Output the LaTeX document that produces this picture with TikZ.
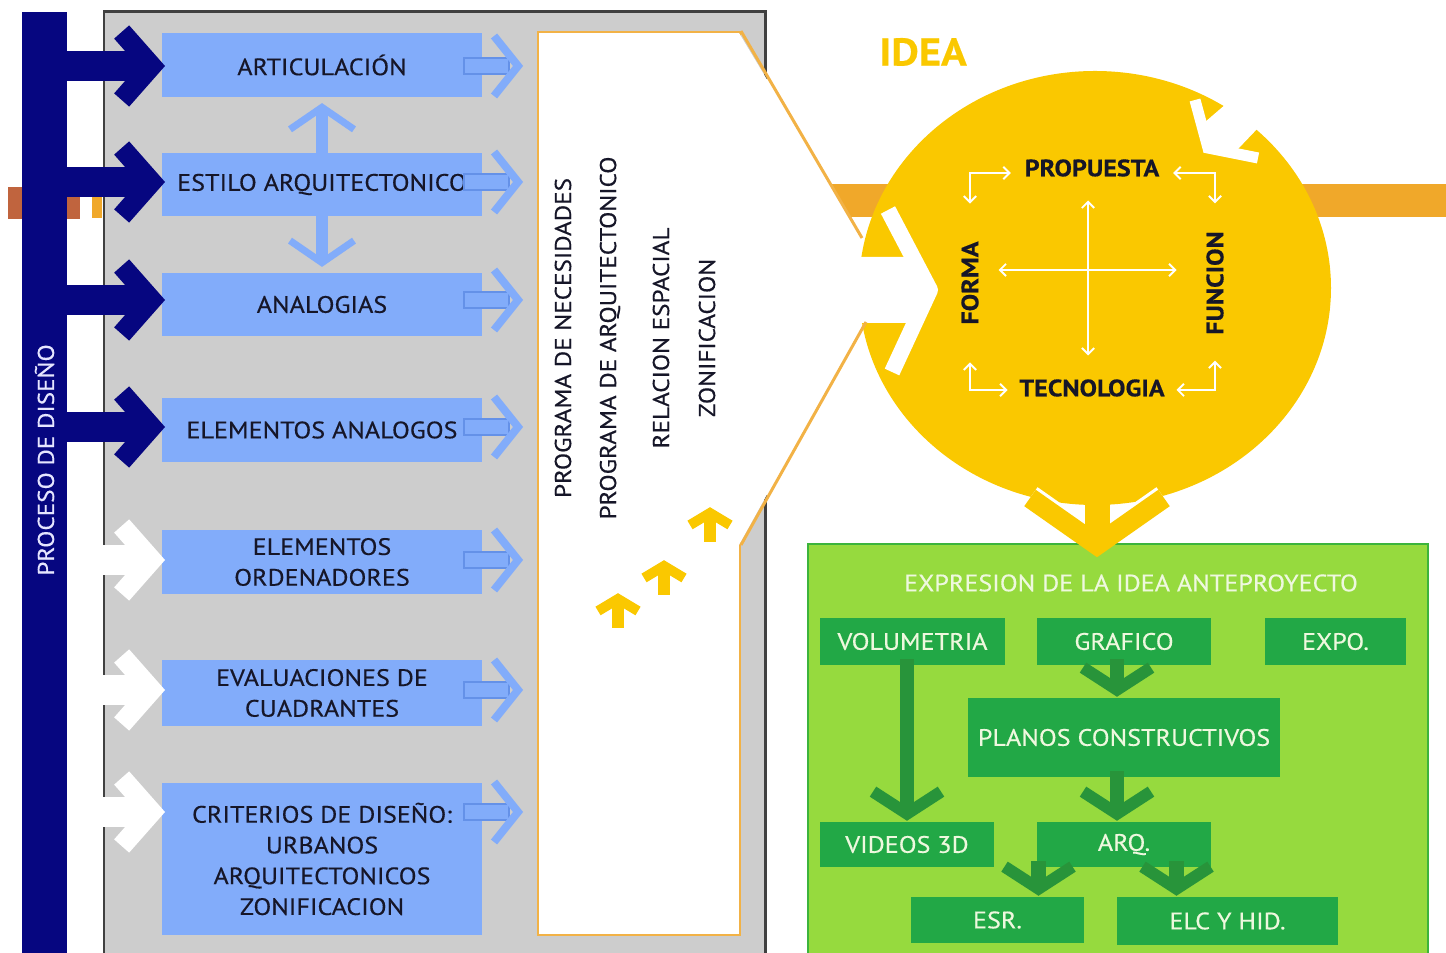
\documentclass[tikz,border=0pt]{standalone}
\usepackage{fontspec}
\setmainfont{PT Sans}[FakeStretch=1.1,FakeBold=0.4]
\usetikzlibrary{calc,arrows.meta}

\definecolor{navy}{RGB}{6,6,128}
\definecolor{boxblue}{RGB}{130,172,250}
\definecolor{edgeblue}{RGB}{100,145,232}
\definecolor{panelgray}{RGB}{205,205,205}
\definecolor{rust}{RGB}{192,100,62}
\definecolor{bandorange}{RGB}{240,168,42}
\definecolor{lineorange}{RGB}{242,178,70}
\definecolor{ideayellow}{RGB}{250,200,0}
\definecolor{limefill}{RGB}{150,218,62}
\definecolor{limeedge}{RGB}{60,180,60}
\definecolor{boxgreen}{RGB}{34,168,70}
\definecolor{arrowgreen}{RGB}{40,148,58}
\definecolor{cream}{RGB}{238,248,222}
\definecolor{inkdark}{RGB}{22,22,40}

\tikzset{
  bluebox/.style={fill=boxblue,minimum width=64mm,inner sep=1pt,align=center,text=inkdark,font=\fontsize{13.5}{17.5}\selectfont},
  greenbox/.style={fill=boxgreen,inner sep=1pt,text=cream,font=\fontsize{13.5}{16}\selectfont},
  vtext/.style={rotate=90,text=inkdark,font=\fontsize{13}{16}\selectfont},
  idtext/.style={text=inkdark,font=\bfseries\fontsize{13.5}{15}\selectfont,inner sep=2pt},
  warr/.style={white,line width=1.1pt,{Straight Barb[length=3.5pt,width=7pt]}-{Straight Barb[length=3.5pt,width=7pt]}},
  gshaft/.style={arrowgreen,line width=8pt},
  ghead/.style={arrowgreen,line width=6.8pt}
}

\begin{document}
\begin{tikzpicture}[x=0.2mm,y=-0.2mm]
\useasboundingbox (0,0) rectangle (1446,953);
\clip (0,0) rectangle (1446,953);

\fill[rust] (8,187) rectangle (80,219);
\fill[bandorange] (92,195) rectangle (102,218);
\fill[bandorange] (800,184) rectangle (1446,217);

\filldraw[fill=panelgray,draw=black!75,line width=1.7pt] (104,12) rectangle (765,975);

\node[fill=navy,minimum width=9mm,minimum height=190mm,inner sep=0] (bar) at (44.5,487) {};
\node[rotate=90,text=white!90!blue,font=\fontsize{13}{15}\selectfont] (proc) at (44.5,460) {PROCESO DE DISEÑO};

\foreach[count=\i] \y/\h/\txt in {65/12.8/ARTICULACIÓN,184.5/12.6/ESTILO ARQUITECTONICO,304.5/12.6/ANALOGIAS,430/12.8/ELEMENTOS ANALOGOS,562/12.8/{ELEMENTOS\\ORDENADORES},693/13.2/{EVALUACIONES DE\\CUADRANTES},859/30.4/{CRITERIOS DE DISEÑO:\\URBANOS\\ARQUITECTONICOS\\ZONIFICACION}}
  \node[bluebox,minimum height=\h mm] (b\i) at (322,\y) {\txt};

\node[draw=lineorange,line width=1.1pt,fill=white,minimum width=40.4mm,minimum height=180.6mm,inner sep=0] (prog) at (639,483.5) {};
\foreach[count=\i] \x/\txt in {563/PROGRAMA DE NECESIDADES,610/PROGRAMA DE ARQUITECTONICO,661/RELACION ESPACIAL,707/ZONIFICACION}
  \node[vtext] (p\i) at (\x,338) {\txt};

\foreach[count=\i] \ay/\ac in {66/navy,182/navy,300/navy,427/navy,560/white,690/white,812/white} {
  \coordinate (l\i) at (b\i.west |- 0,\ay);
  \coordinate (r\i) at (prog.west |- 0,\ay);
  \draw[\ac,line width=17pt] (bar.east |- l\i) -- ($(l\i)+(-12,0)$);
  \draw[\ac,line width=11.4pt] ($(l\i)+(-40,-34)$) -- ($(l\i)+(-10,0)$) -- ($(l\i)+(-40,34)$);
  \draw[fill=boxblue,draw=edgeblue,line width=0.85pt] ($(r\i)+(-73,-8)$) rectangle ($(r\i)+(-28,8)$);
  \draw[boxblue,line width=4.5pt] ($(r\i)+(-43,-30)$) -- ($(r\i)+(-19,0)$) -- ($(r\i)+(-43,30)$);
}

\draw[boxblue,line width=6.8pt] (b2.north) -- ($(b1.south)+(0,14)$);
\draw[boxblue,line width=4pt] ($(b1.south)+(-32,32)$) -- ($(b1.south)+(0,10)$) -- ($(b1.south)+(32,32)$);
\draw[boxblue,line width=6.8pt] (b2.south) -- ($(b3.north)+(0,-14)$);
\draw[boxblue,line width=4pt] ($(b3.north)+(-32,-32)$) -- ($(b3.north)+(0,-10)$) -- ($(b3.north)+(32,-32)$);

\foreach \x/\y in {618/599,664/566,710/513} {
  \draw[ideayellow,line width=6.3pt] (\x,\y) -- (\x,\y+29);
  \draw[ideayellow,line width=5.7pt] (\x-20,\y+12) -- (\x,\y) -- (\x+20,\y+12);
}

\node[text=ideayellow,font=\bfseries\fontsize{22}{24}\selectfont] (idea) at (923,52) {IDEA};

\fill[ideayellow] (1095,288) ellipse [x radius=47.2mm,y radius=43.4mm];
\coordinate (fa) at (862,238);
\coordinate (fb) at (866,322);
\fill[white] (739,33) -- (fa) -- (857,257) -- (912,257) -- (922,290) -- (912,323) -- (862,323) -- (739,545) -- cycle;
\draw[white,line width=9.1pt,line join=round] (888,210) -- (930,290) -- (892,372);
\draw[lineorange,line width=1.7pt] (prog.north east) -- (fa);
\draw[lineorange,line width=1.7pt] (prog.east |- 0,545) -- (fb);
\fill[white] (1205,122) -- (1226,104) -- (1240,85) -- (1280,112) -- (1259,127) -- (1238,149) -- (1210,146) -- cycle;
\draw[white,line width=6.3pt] (1195,100) -- (1208,148) -- (1258,158);

\node[idtext] (pro) at (1092,168) {PROPUESTA};
\node[idtext] (tec) at (1092,388) {TECNOLOGIA};
\node[idtext,rotate=90] (for) at (970,283) {FORMA};
\node[idtext,rotate=90] (fun) at (1215,283) {FUNCION};
\draw[warr] ($(pro.west)+(-10,5)$) -| ($(for.east)+(0,-34)$);
\draw[warr] ($(pro.east)+(10,5)$) -| ($(fun.east)+(0,-24)$);
\draw[warr] ($(tec.west)+(-8,2)$) -| ($(for.west)+(0,34)$);
\draw[warr] ($(tec.east)+(8,2)$) -| ($(fun.west)+(0,22)$);
\draw[warr] ($(for.south)+(16,-13)$) -- ($(fun.north)+(-26,-13)$);
\draw[warr] ($(pro.south)+(-4,20)$) -- ($(tec.north)+(-4,-20)$);

\draw[white,line width=15pt] (1030,498) -- (1097,545) -- (1164,498);

\draw[fill=limefill,draw=limeedge,line width=1.2pt] (808,544) rectangle (1428,975);
\node[text=cream,font=\fontsize{13.5}{15}\selectfont] (expr) at (1131,583) {EXPRESION DE LA IDEA ANTEPROYECTO};

\fill[ideayellow] (1085,470) rectangle (1110,548);
\draw[ideayellow,line width=11.4pt] (1030,498) -- (1097,545) -- (1164,498);

\node[greenbox,minimum width=37mm,minimum height=9.4mm] (vol) at (912.5,641.5) {VOLUMETRIA};
\node[greenbox,minimum width=34.8mm,minimum height=9.4mm] (gra) at (1124,641.5) {GRAFICO};
\node[greenbox,minimum width=28.2mm,minimum height=9.4mm] (exp) at (1335.5,641.5) {EXPO.};
\node[greenbox,minimum width=62.4mm,minimum height=15.8mm] (pla) at (1124,737.5) {PLANOS CONSTRUCTIVOS};
\node[greenbox,minimum width=34.8mm,minimum height=9mm] (vid) at (907,844.5) {VIDEOS 3D};
\node[greenbox,minimum width=34.8mm,minimum height=9mm] (arq) at (1124,844.5) {ARQ.};
\node[greenbox,minimum width=34.6mm,minimum height=9.2mm] (esr) at (997.5,920) {ESR.};
\node[greenbox,minimum width=44.2mm,minimum height=9.6mm] (elc) at (1227.5,921) {ELC Y HID.};

\foreach \a/\b/\dx in {vol/vid/0,gra/pla/-7,pla/arq/-7,arq/esr/41,arq/elc/-51} {
  \draw[gshaft] ($(\a.south -| \b.north)+(\dx,-6)$) -- ($(\b.north)+(\dx,-8)$);
  \draw[ghead] ($(\b.north)+({\dx-34},-30)$) -- ($(\b.north)+(\dx,-8)$) -- ($(\b.north)+({\dx+34},-30)$);
}
\end{tikzpicture}
\end{document}
